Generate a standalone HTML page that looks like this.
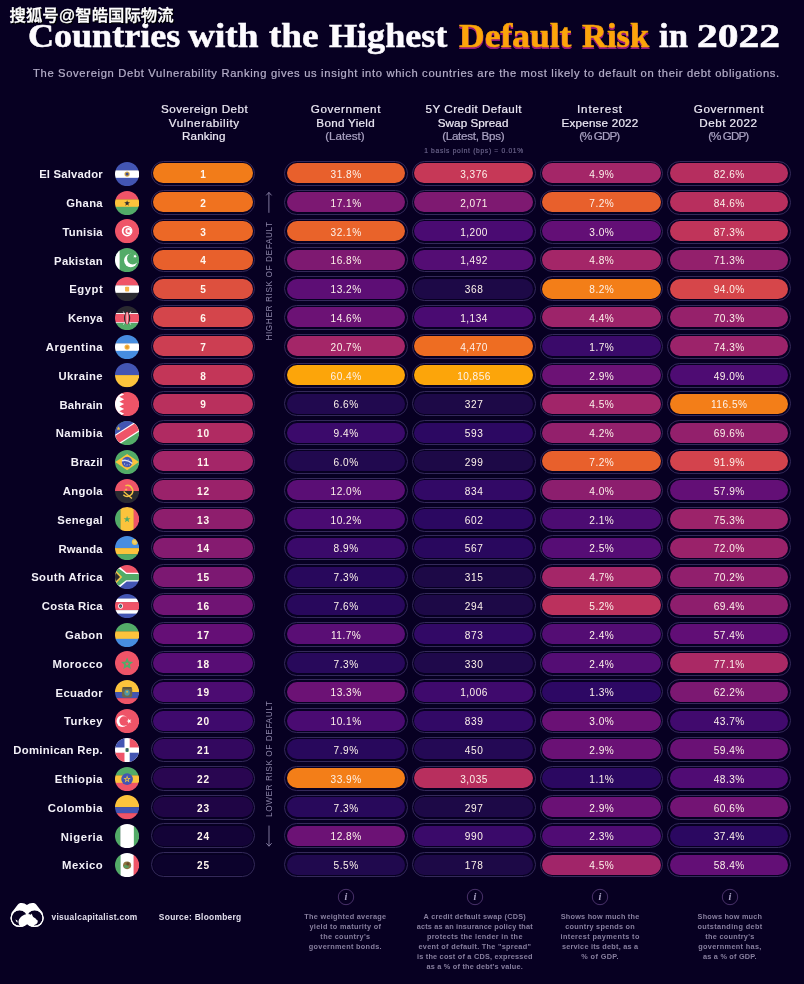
<!DOCTYPE html><html><head><meta charset="utf-8"><title>Default Risk</title><style>
*{margin:0;padding:0;box-sizing:border-box}
html,body{width:804px;height:984px;overflow:hidden;background:#070022;}
body{position:relative;font-family:"Liberation Sans",sans-serif;color:#fff}
#wrap{position:absolute;left:0;top:0;width:804px;height:984px;overflow:hidden;will-change:transform}
.abs{position:absolute}
.t{position:absolute;white-space:nowrap}
.tw{position:absolute;top:15.8px;white-space:nowrap;font-family:"Liberation Serif",serif;font-weight:bold;font-size:33px;line-height:40px;color:#fdfbff;transform-origin:0 0;-webkit-text-stroke:0.55px #fdfbff}
.tw.o{color:#fca50a;-webkit-text-stroke:0.55px #fca50a;text-shadow:0 1.6px 0 #97197a,0.5px 1.6px 0 #97197a,-0.5px 1.6px 0 #97197a}
.ring{position:absolute;height:25.0px;border:1px solid #34295a;border-radius:13px;}
.pill{position:absolute;left:1.6px;top:1.6px;right:1.6px;bottom:1.6px;border-radius:11px}
.flag{position:absolute;left:115.1px;width:24.2px;height:24.2px}
.vt{position:absolute;font-size:8.2px;letter-spacing:1.05px;color:#8d85a8;white-space:nowrap;transform-origin:0 0;transform:rotate(-90deg);line-height:10px;font-weight:bold}
</style></head><body><div id="wrap">
<span class="tw" style="left:28.20px;transform:scaleX(1.0924)">Countries</span>
<span class="tw" style="left:188.00px;transform:scaleX(1.1293)">with</span>
<span class="tw" style="left:269.40px;transform:scaleX(1.1253)">the</span>
<span class="tw" style="left:328.50px;transform:scaleX(1.0936)">Highest</span>
<span class="tw o" style="left:458.50px;transform:scaleX(1.0758)">Default</span>
<span class="tw o" style="left:582.10px;transform:scaleX(1.0454)">Risk</span>
<span class="tw" style="left:659.00px;transform:scaleX(1.0501)">in</span>
<span class="tw" style="left:697.20px;transform:scaleX(1.2576)">2022</span>
<svg class="abs" style="left:0;top:0" width="200" height="30" viewBox="0 0 200 30"><text x="10.7" y="22.2" font-family="'Liberation Sans','Noto Sans CJK SC',sans-serif" font-size="16.45" font-weight="500" fill="#000" stroke="#000" stroke-width="0.49" textLength="164" lengthAdjust="spacingAndGlyphs">搜狐号@智皓国际物流</text><text x="9.6" y="21.1" font-family="'Liberation Sans','Noto Sans CJK SC',sans-serif" font-size="16.45" font-weight="500" fill="#fff" stroke="#fff" stroke-width="0.36" textLength="164" lengthAdjust="spacingAndGlyphs">搜狐号@智皓国际物流</text></svg>
<div class="t" style="left:33.15px;top:67.14px;font-size:10.2px;line-height:13.26px;letter-spacing:0.602px;color:#b5aec9;transform:scaleX(1.1);transform-origin:0 50%;-webkit-text-stroke:0.2px #b5aec9;">The Sovereign Debt Vulnerability Ranking gives us insight into which countries are the most likely to default on their debt obligations.</div>
<div class="t" style="left:164.68px;top:102.74px;font-size:10.6px;line-height:13.78px;letter-spacing:0.445px;color:#ece8f4;transform:scaleX(1.1);transform-origin:50% 50%;-webkit-text-stroke:0.2px #ece8f4;">Sovereign Debt</div>
<div class="t" style="left:172.13px;top:116.74px;font-size:10.6px;line-height:13.78px;letter-spacing:0.549px;color:#ece8f4;transform:scaleX(1.1);transform-origin:50% 50%;-webkit-text-stroke:0.2px #ece8f4;">Vulnerability</div>
<div class="t" style="left:184.36px;top:129.84px;font-size:10.6px;line-height:13.78px;letter-spacing:0.099px;color:#ece8f4;transform:scaleX(1.1);transform-origin:50% 50%;-webkit-text-stroke:0.2px #ece8f4;">Ranking</div>
<div class="t" style="left:313.65px;top:102.74px;font-size:10.6px;line-height:13.78px;letter-spacing:0.553px;color:#ece8f4;transform:scaleX(1.1);transform-origin:50% 50%;-webkit-text-stroke:0.2px #ece8f4;">Government</div>
<div class="t" style="left:318.79px;top:116.74px;font-size:10.6px;line-height:13.78px;letter-spacing:0.260px;color:#ece8f4;transform:scaleX(1.1);transform-origin:50% 50%;-webkit-text-stroke:0.2px #ece8f4;">Bond Yield</div>
<div class="t" style="left:327.42px;top:129.84px;font-size:10.6px;line-height:13.78px;letter-spacing:-0.026px;color:#aaa2c2;transform:scaleX(1.1);transform-origin:50% 50%;-webkit-text-stroke:0.2px #aaa2c2;">(Latest)</div>
<div class="t" style="left:429.55px;top:102.74px;font-size:10.6px;line-height:13.78px;letter-spacing:0.424px;color:#ece8f4;transform:scaleX(1.1);transform-origin:50% 50%;-webkit-text-stroke:0.2px #ece8f4;">5Y Credit Default</div>
<div class="t" style="left:441.09px;top:116.74px;font-size:10.6px;line-height:13.78px;letter-spacing:0.057px;color:#ece8f4;transform:scaleX(1.1);transform-origin:50% 50%;-webkit-text-stroke:0.2px #ece8f4;">Swap Spread</div>
<div class="t" style="left:444.78px;top:129.84px;font-size:10.6px;line-height:13.78px;letter-spacing:-0.270px;color:#aaa2c2;transform:scaleX(1.1);transform-origin:50% 50%;-webkit-text-stroke:0.2px #aaa2c2;">(Latest, Bps)</div>
<div class="t" style="left:579.44px;top:102.74px;font-size:10.6px;line-height:13.78px;letter-spacing:0.824px;color:#ece8f4;transform:scaleX(1.1);transform-origin:50% 50%;-webkit-text-stroke:0.2px #ece8f4;">Interest</div>
<div class="t" style="left:565.08px;top:116.74px;font-size:10.6px;line-height:13.78px;letter-spacing:0.188px;color:#ece8f4;transform:scaleX(1.1);transform-origin:50% 50%;-webkit-text-stroke:0.2px #ece8f4;">Expense 2022</div>
<div class="t" style="left:581.35px;top:129.84px;font-size:10.6px;line-height:13.78px;letter-spacing:-0.850px;color:#aaa2c2;transform:scaleX(1.1);transform-origin:50% 50%;-webkit-text-stroke:0.2px #aaa2c2;">(% GDP)</div>
<div class="t" style="left:696.85px;top:102.74px;font-size:10.6px;line-height:13.78px;letter-spacing:0.553px;color:#ece8f4;transform:scaleX(1.1);transform-origin:50% 50%;-webkit-text-stroke:0.2px #ece8f4;">Government</div>
<div class="t" style="left:702.30px;top:116.74px;font-size:10.6px;line-height:13.78px;letter-spacing:0.435px;color:#ece8f4;transform:scaleX(1.1);transform-origin:50% 50%;-webkit-text-stroke:0.2px #ece8f4;">Debt 2022</div>
<div class="t" style="left:709.89px;top:129.84px;font-size:10.6px;line-height:13.78px;letter-spacing:-0.865px;color:#aaa2c2;transform:scaleX(1.1);transform-origin:50% 50%;-webkit-text-stroke:0.2px #aaa2c2;">(% GDP)</div>
<div class="t" style="left:426.69px;top:147.22px;font-size:6.3px;line-height:8.19px;letter-spacing:0.650px;color:#6d658c;transform:scaleX(1.06);transform-origin:50% 50%;-webkit-text-stroke:0.15px #6d658c;">1 basis point (bps) = 0.01%</div>
<div class="t" style="left:39.15px;top:167.24px;font-size:11.3px;line-height:14.69px;letter-spacing:0.196px;color:#f3f0f8;font-weight:bold;">El Salvador</div>
<svg class="flag" style="top:161.75px" viewBox="0 0 24 24"><clipPath id="c0"><circle cx="12" cy="12" r="12"/></clipPath><g clip-path="url(#c0)"><rect x="0" y="0.00" width="24" height="8.60" fill="#4355b3"/><rect x="0" y="8.30" width="24" height="7.70" fill="#ffffff"/><rect x="0" y="15.70" width="24" height="8.60" fill="#4355b3"/><circle cx="12" cy="12" r="2.6" fill="#d9aa48"/><circle cx="12" cy="12" r="1.5" fill="#3d4a8a"/></g></svg>
<div class="ring" style="left:150.7px;top:160.90px;width:104.7px"><div class="pill" style="background:#f27c19"></div></div>
<div class="t" style="left:200.24px;top:168.09px;font-size:10.1px;line-height:13.13px;letter-spacing:0.000px;color:#fff6ee;font-weight:bold;">1</div>
<div class="ring" style="left:284.0px;top:160.90px;width:123.8px"><div class="pill" style="background:#e8602c"></div></div>
<div class="t" style="left:330.55px;top:168.09px;font-size:10.1px;line-height:13.13px;letter-spacing:0.515px;color:#fdf2ea;">31.8%</div>
<div class="ring" style="left:411.9px;top:160.90px;width:123.8px"><div class="pill" style="background:#c63857"></div></div>
<div class="t" style="left:460.18px;top:168.09px;font-size:10.1px;line-height:13.13px;letter-spacing:0.490px;color:#fdf2ea;">3,376</div>
<div class="ring" style="left:539.7px;top:160.90px;width:123.7px"><div class="pill" style="background:#a42668"></div></div>
<div class="t" style="left:589.24px;top:168.09px;font-size:10.1px;line-height:13.13px;letter-spacing:0.531px;color:#fdf2ea;">4.9%</div>
<div class="ring" style="left:667.2px;top:160.90px;width:123.6px"><div class="pill" style="background:#b62e5f"></div></div>
<div class="t" style="left:713.65px;top:168.09px;font-size:10.1px;line-height:13.13px;letter-spacing:0.515px;color:#fdf2ea;">82.6%</div>
<div class="t" style="left:66.25px;top:196.04px;font-size:11.3px;line-height:14.69px;letter-spacing:0.310px;color:#f3f0f8;font-weight:bold;">Ghana</div>
<svg class="flag" style="top:190.55px" viewBox="0 0 24 24"><clipPath id="c1"><circle cx="12" cy="12" r="12"/></clipPath><g clip-path="url(#c1)"><rect x="0" y="0.00" width="24" height="8.60" fill="#ef5468"/><rect x="0" y="8.30" width="24" height="7.70" fill="#fcc33c"/><rect x="0" y="15.70" width="24" height="8.60" fill="#53ab68"/><polygon points="12.00,9.20 12.71,11.23 14.85,11.27 13.14,12.57 13.76,14.63 12.00,13.40 10.24,14.63 10.86,12.57 9.15,11.27 11.29,11.23" fill="#2a2a30"/></g></svg>
<div class="ring" style="left:150.7px;top:189.70px;width:104.7px"><div class="pill" style="background:#f0721f"></div></div>
<div class="t" style="left:200.24px;top:196.89px;font-size:10.1px;line-height:13.13px;letter-spacing:0.000px;color:#fff6ee;font-weight:bold;">2</div>
<div class="ring" style="left:284.0px;top:189.70px;width:123.8px"><div class="pill" style="background:#7c1872"></div></div>
<div class="t" style="left:330.55px;top:196.89px;font-size:10.1px;line-height:13.13px;letter-spacing:0.515px;color:#fdf2ea;">17.1%</div>
<div class="ring" style="left:411.9px;top:189.70px;width:123.8px"><div class="pill" style="background:#7e1971"></div></div>
<div class="t" style="left:460.18px;top:196.89px;font-size:10.1px;line-height:13.13px;letter-spacing:0.490px;color:#fdf2ea;">2,071</div>
<div class="ring" style="left:539.7px;top:189.70px;width:123.7px"><div class="pill" style="background:#e8602c"></div></div>
<div class="t" style="left:589.24px;top:196.89px;font-size:10.1px;line-height:13.13px;letter-spacing:0.531px;color:#fdf2ea;">7.2%</div>
<div class="ring" style="left:667.2px;top:189.70px;width:123.6px"><div class="pill" style="background:#b82f5e"></div></div>
<div class="t" style="left:713.65px;top:196.89px;font-size:10.1px;line-height:13.13px;letter-spacing:0.515px;color:#fdf2ea;">84.6%</div>
<div class="t" style="left:62.55px;top:224.84px;font-size:11.3px;line-height:14.69px;letter-spacing:0.231px;color:#f3f0f8;font-weight:bold;">Tunisia</div>
<svg class="flag" style="top:219.35px" viewBox="0 0 24 24"><clipPath id="c2"><circle cx="12" cy="12" r="12"/></clipPath><g clip-path="url(#c2)"><rect width="24" height="24" fill="#ef5468"/><circle cx="12" cy="12" r="5.3" fill="#ffffff"/><circle cx="12.3" cy="12" r="3.8" fill="#ef5468"/><circle cx="13.4" cy="12" r="3.1" fill="#ffffff"/><polygon points="11.10,12.00 12.59,11.48 12.62,9.91 13.57,11.16 15.08,10.71 14.18,12.00 15.08,13.29 13.57,12.84 12.62,14.09 12.59,12.52" fill="#ef5468"/></g></svg>
<div class="ring" style="left:150.7px;top:218.50px;width:104.7px"><div class="pill" style="background:#ec6826"></div></div>
<div class="t" style="left:200.24px;top:225.69px;font-size:10.1px;line-height:13.13px;letter-spacing:0.000px;color:#fff6ee;font-weight:bold;">3</div>
<div class="ring" style="left:284.0px;top:218.50px;width:123.8px"><div class="pill" style="background:#e9632a"></div></div>
<div class="t" style="left:330.55px;top:225.69px;font-size:10.1px;line-height:13.13px;letter-spacing:0.515px;color:#fdf2ea;">32.1%</div>
<div class="ring" style="left:411.9px;top:218.50px;width:123.8px"><div class="pill" style="background:#4a0b72"></div></div>
<div class="t" style="left:460.18px;top:225.69px;font-size:10.1px;line-height:13.13px;letter-spacing:0.490px;color:#fdf2ea;">1,200</div>
<div class="ring" style="left:539.7px;top:218.50px;width:123.7px"><div class="pill" style="background:#630f76"></div></div>
<div class="t" style="left:589.24px;top:225.69px;font-size:10.1px;line-height:13.13px;letter-spacing:0.531px;color:#fdf2ea;">3.0%</div>
<div class="ring" style="left:667.2px;top:218.50px;width:123.6px"><div class="pill" style="background:#c0345a"></div></div>
<div class="t" style="left:713.65px;top:225.69px;font-size:10.1px;line-height:13.13px;letter-spacing:0.515px;color:#fdf2ea;">87.3%</div>
<div class="t" style="left:54.05px;top:253.64px;font-size:11.3px;line-height:14.69px;letter-spacing:0.303px;color:#f3f0f8;font-weight:bold;">Pakistan</div>
<svg class="flag" style="top:248.15px" viewBox="0 0 24 24"><clipPath id="c3"><circle cx="12" cy="12" r="12"/></clipPath><g clip-path="url(#c3)"><rect width="24" height="24" fill="#53ab68"/><rect width="4.6" height="24" fill="#ffffff"/><circle cx="15.6" cy="12.4" r="6.6" fill="#ffffff"/><circle cx="17.6" cy="10.6" r="5.7" fill="#53ab68"/><polygon points="20.80,6.57 20.53,7.97 21.76,8.72 20.34,8.89 20.01,10.29 19.40,8.99 17.97,9.11 19.02,8.13 18.46,6.81 19.72,7.50" fill="#ffffff"/></g></svg>
<div class="ring" style="left:150.7px;top:247.30px;width:104.7px"><div class="pill" style="background:#e8602c"></div></div>
<div class="t" style="left:200.24px;top:254.49px;font-size:10.1px;line-height:13.13px;letter-spacing:0.000px;color:#fff6ee;font-weight:bold;">4</div>
<div class="ring" style="left:284.0px;top:247.30px;width:123.8px"><div class="pill" style="background:#7e1971"></div></div>
<div class="t" style="left:330.55px;top:254.49px;font-size:10.1px;line-height:13.13px;letter-spacing:0.515px;color:#fdf2ea;">16.8%</div>
<div class="ring" style="left:411.9px;top:247.30px;width:123.8px"><div class="pill" style="background:#540d74"></div></div>
<div class="t" style="left:460.18px;top:254.49px;font-size:10.1px;line-height:13.13px;letter-spacing:0.490px;color:#fdf2ea;">1,492</div>
<div class="ring" style="left:539.7px;top:247.30px;width:123.7px"><div class="pill" style="background:#a42668"></div></div>
<div class="t" style="left:589.24px;top:254.49px;font-size:10.1px;line-height:13.13px;letter-spacing:0.531px;color:#fdf2ea;">4.8%</div>
<div class="ring" style="left:667.2px;top:247.30px;width:123.6px"><div class="pill" style="background:#93206c"></div></div>
<div class="t" style="left:713.65px;top:254.49px;font-size:10.1px;line-height:13.13px;letter-spacing:0.515px;color:#fdf2ea;">71.3%</div>
<div class="t" style="left:69.15px;top:282.44px;font-size:11.3px;line-height:14.69px;letter-spacing:0.529px;color:#f3f0f8;font-weight:bold;">Egypt</div>
<svg class="flag" style="top:276.95px" viewBox="0 0 24 24"><clipPath id="c4"><circle cx="12" cy="12" r="12"/></clipPath><g clip-path="url(#c4)"><rect x="0" y="0.00" width="24" height="8.60" fill="#ef5468"/><rect x="0" y="8.30" width="24" height="7.70" fill="#ffffff"/><rect x="0" y="15.70" width="24" height="8.60" fill="#2a2a30"/><rect x="10" y="9.6" width="4" height="4.8" rx="0.8" fill="#f4b64a"/></g></svg>
<div class="ring" style="left:150.7px;top:276.10px;width:104.7px"><div class="pill" style="background:#dd503e"></div></div>
<div class="t" style="left:200.24px;top:283.29px;font-size:10.1px;line-height:13.13px;letter-spacing:0.000px;color:#fff6ee;font-weight:bold;">5</div>
<div class="ring" style="left:284.0px;top:276.10px;width:123.8px"><div class="pill" style="background:#5d0e75"></div></div>
<div class="t" style="left:330.55px;top:283.29px;font-size:10.1px;line-height:13.13px;letter-spacing:0.515px;color:#fdf2ea;">13.2%</div>
<div class="ring" style="left:411.9px;top:276.10px;width:123.8px"><div class="pill" style="background:#1d0947"></div></div>
<div class="t" style="left:464.82px;top:283.29px;font-size:10.1px;line-height:13.13px;letter-spacing:0.554px;color:#fdf2ea;">368</div>
<div class="ring" style="left:539.7px;top:276.10px;width:123.7px"><div class="pill" style="background:#f37e18"></div></div>
<div class="t" style="left:589.24px;top:283.29px;font-size:10.1px;line-height:13.13px;letter-spacing:0.531px;color:#fdf2ea;">8.2%</div>
<div class="ring" style="left:667.2px;top:276.10px;width:123.6px"><div class="pill" style="background:#d6464a"></div></div>
<div class="t" style="left:713.65px;top:283.29px;font-size:10.1px;line-height:13.13px;letter-spacing:0.515px;color:#fdf2ea;">94.0%</div>
<div class="t" style="left:67.95px;top:311.24px;font-size:11.3px;line-height:14.69px;letter-spacing:0.197px;color:#f3f0f8;font-weight:bold;">Kenya</div>
<svg class="flag" style="top:305.75px" viewBox="0 0 24 24"><clipPath id="c5"><circle cx="12" cy="12" r="12"/></clipPath><g clip-path="url(#c5)"><rect x="0" y="0.00" width="24" height="7.30" fill="#2a2a30"/><rect x="0" y="7.00" width="24" height="1.20" fill="#ffffff"/><rect x="0" y="7.90" width="24" height="8.50" fill="#ef5468"/><rect x="0" y="16.10" width="24" height="1.20" fill="#ffffff"/><rect x="0" y="17.00" width="24" height="7.30" fill="#53ab68"/><path d="M8.2 5.5L15.6 18.5M15.8 5.5L8.4 18.5" stroke="#ffffff" stroke-width="0.7"/><ellipse cx="12" cy="12" rx="3.1" ry="6.2" fill="#2a2a30"/><ellipse cx="12" cy="12" rx="1.9" ry="6.4" fill="#ef5468"/><rect x="11.6" y="6.6" width="0.8" height="10.8" fill="#ffffff"/></g></svg>
<div class="ring" style="left:150.7px;top:304.90px;width:104.7px"><div class="pill" style="background:#d4454b"></div></div>
<div class="t" style="left:200.24px;top:312.09px;font-size:10.1px;line-height:13.13px;letter-spacing:0.000px;color:#fff6ee;font-weight:bold;">6</div>
<div class="ring" style="left:284.0px;top:304.90px;width:123.8px"><div class="pill" style="background:#6c1275"></div></div>
<div class="t" style="left:330.55px;top:312.09px;font-size:10.1px;line-height:13.13px;letter-spacing:0.515px;color:#fdf2ea;">14.6%</div>
<div class="ring" style="left:411.9px;top:304.90px;width:123.8px"><div class="pill" style="background:#4a0b72"></div></div>
<div class="t" style="left:460.18px;top:312.09px;font-size:10.1px;line-height:13.13px;letter-spacing:0.490px;color:#fdf2ea;">1,134</div>
<div class="ring" style="left:539.7px;top:304.90px;width:123.7px"><div class="pill" style="background:#9d246a"></div></div>
<div class="t" style="left:589.24px;top:312.09px;font-size:10.1px;line-height:13.13px;letter-spacing:0.531px;color:#fdf2ea;">4.4%</div>
<div class="ring" style="left:667.2px;top:304.90px;width:123.6px"><div class="pill" style="background:#96216b"></div></div>
<div class="t" style="left:713.65px;top:312.09px;font-size:10.1px;line-height:13.13px;letter-spacing:0.515px;color:#fdf2ea;">70.3%</div>
<div class="t" style="left:45.85px;top:340.04px;font-size:11.3px;line-height:14.69px;letter-spacing:0.508px;color:#f3f0f8;font-weight:bold;">Argentina</div>
<svg class="flag" style="top:334.55px" viewBox="0 0 24 24"><clipPath id="c6"><circle cx="12" cy="12" r="12"/></clipPath><g clip-path="url(#c6)"><rect x="0" y="0.00" width="24" height="8.60" fill="#478de0"/><rect x="0" y="8.30" width="24" height="7.70" fill="#ffffff"/><rect x="0" y="15.70" width="24" height="8.60" fill="#478de0"/><circle cx="12" cy="12" r="2.6" fill="#f6b84a"/><circle cx="12" cy="12" r="1.6" fill="#e89a2a"/></g></svg>
<div class="ring" style="left:150.7px;top:333.70px;width:104.7px"><div class="pill" style="background:#cc3e52"></div></div>
<div class="t" style="left:200.24px;top:340.89px;font-size:10.1px;line-height:13.13px;letter-spacing:0.000px;color:#fff6ee;font-weight:bold;">7</div>
<div class="ring" style="left:284.0px;top:333.70px;width:123.8px"><div class="pill" style="background:#a42668"></div></div>
<div class="t" style="left:330.55px;top:340.89px;font-size:10.1px;line-height:13.13px;letter-spacing:0.515px;color:#fdf2ea;">20.7%</div>
<div class="ring" style="left:411.9px;top:333.70px;width:123.8px"><div class="pill" style="background:#ee6d22"></div></div>
<div class="t" style="left:460.18px;top:340.89px;font-size:10.1px;line-height:13.13px;letter-spacing:0.490px;color:#fdf2ea;">4,470</div>
<div class="ring" style="left:539.7px;top:333.70px;width:123.7px"><div class="pill" style="background:#3a0a6a"></div></div>
<div class="t" style="left:589.24px;top:340.89px;font-size:10.1px;line-height:13.13px;letter-spacing:0.531px;color:#fdf2ea;">1.7%</div>
<div class="ring" style="left:667.2px;top:333.70px;width:123.6px"><div class="pill" style="background:#9c236a"></div></div>
<div class="t" style="left:713.65px;top:340.89px;font-size:10.1px;line-height:13.13px;letter-spacing:0.515px;color:#fdf2ea;">74.3%</div>
<div class="t" style="left:58.45px;top:368.84px;font-size:11.3px;line-height:14.69px;letter-spacing:0.458px;color:#f3f0f8;font-weight:bold;">Ukraine</div>
<svg class="flag" style="top:363.35px" viewBox="0 0 24 24"><clipPath id="c7"><circle cx="12" cy="12" r="12"/></clipPath><g clip-path="url(#c7)"><rect x="0" y="0.00" width="24" height="12.30" fill="#4355b3"/><rect x="0" y="12.00" width="24" height="12.30" fill="#fcc33c"/></g></svg>
<div class="ring" style="left:150.7px;top:362.50px;width:104.7px"><div class="pill" style="background:#c33658"></div></div>
<div class="t" style="left:200.24px;top:369.69px;font-size:10.1px;line-height:13.13px;letter-spacing:0.000px;color:#fff6ee;font-weight:bold;">8</div>
<div class="ring" style="left:284.0px;top:362.50px;width:123.8px"><div class="pill" style="background:#fca50a"></div></div>
<div class="t" style="left:330.55px;top:369.69px;font-size:10.1px;line-height:13.13px;letter-spacing:0.515px;color:#fdf2ea;">60.4%</div>
<div class="ring" style="left:411.9px;top:362.50px;width:123.8px"><div class="pill" style="background:#fca50a"></div></div>
<div class="t" style="left:457.14px;top:369.69px;font-size:10.1px;line-height:13.13px;letter-spacing:0.485px;color:#fdf2ea;">10,856</div>
<div class="ring" style="left:539.7px;top:362.50px;width:123.7px"><div class="pill" style="background:#6c1275"></div></div>
<div class="t" style="left:589.24px;top:369.69px;font-size:10.1px;line-height:13.13px;letter-spacing:0.531px;color:#fdf2ea;">2.9%</div>
<div class="ring" style="left:667.2px;top:362.50px;width:123.6px"><div class="pill" style="background:#4e0c73"></div></div>
<div class="t" style="left:713.65px;top:369.69px;font-size:10.1px;line-height:13.13px;letter-spacing:0.515px;color:#fdf2ea;">49.0%</div>
<div class="t" style="left:59.45px;top:397.64px;font-size:11.3px;line-height:14.69px;letter-spacing:0.189px;color:#f3f0f8;font-weight:bold;">Bahrain</div>
<svg class="flag" style="top:392.15px" viewBox="0 0 24 24"><clipPath id="c8"><circle cx="12" cy="12" r="12"/></clipPath><g clip-path="url(#c8)"><rect width="24" height="24" fill="#ef5468"/><polygon points="0,0 4.4,0 9.1,2.40 4.4,4.80 9.1,7.20 4.4,9.60 9.1,12.00 4.4,14.40 9.1,16.80 4.4,19.20 9.1,21.60 4.4,24.00 0,24" fill="#ffffff"/></g></svg>
<div class="ring" style="left:150.7px;top:391.30px;width:104.7px"><div class="pill" style="background:#b9305d"></div></div>
<div class="t" style="left:200.24px;top:398.49px;font-size:10.1px;line-height:13.13px;letter-spacing:0.000px;color:#fff6ee;font-weight:bold;">9</div>
<div class="ring" style="left:284.0px;top:391.30px;width:123.8px"><div class="pill" style="background:#21094f"></div></div>
<div class="t" style="left:333.59px;top:398.49px;font-size:10.1px;line-height:13.13px;letter-spacing:0.531px;color:#fdf2ea;">6.6%</div>
<div class="ring" style="left:411.9px;top:391.30px;width:123.8px"><div class="pill" style="background:#1d0947"></div></div>
<div class="t" style="left:464.82px;top:398.49px;font-size:10.1px;line-height:13.13px;letter-spacing:0.554px;color:#fdf2ea;">327</div>
<div class="ring" style="left:539.7px;top:391.30px;width:123.7px"><div class="pill" style="background:#a12569"></div></div>
<div class="t" style="left:589.24px;top:398.49px;font-size:10.1px;line-height:13.13px;letter-spacing:0.531px;color:#fdf2ea;">4.5%</div>
<div class="ring" style="left:667.2px;top:391.30px;width:123.6px"><div class="pill" style="background:#f37e18"></div></div>
<div class="t" style="left:711.00px;top:398.49px;font-size:10.1px;line-height:13.13px;letter-spacing:0.501px;color:#fdf2ea;">116.5%</div>
<div class="t" style="left:55.65px;top:426.44px;font-size:11.3px;line-height:14.69px;letter-spacing:0.508px;color:#f3f0f8;font-weight:bold;">Namibia</div>
<svg class="flag" style="top:420.95px" viewBox="0 0 24 24"><clipPath id="c9"><circle cx="12" cy="12" r="12"/></clipPath><g clip-path="url(#c9)"><rect width="24" height="24" fill="#53ab68"/><polygon points="0,0 24,0 0,17" fill="#4355b3"/><polygon points="-2,14.8 26,-3 26,9.2 -2,27" fill="#ffffff"/><polygon points="-2,16.2 26,-1.6 26,7.8 -2,25.6" fill="#ef5468"/><polygon points="3.50,5.20 4.04,6.76 5.69,6.79 4.37,7.78 4.85,9.36 3.50,8.42 2.15,9.36 2.63,7.78 1.31,6.79 2.96,6.76" fill="#f0c040"/></g></svg>
<div class="ring" style="left:150.7px;top:420.10px;width:104.7px"><div class="pill" style="background:#b02b62"></div></div>
<div class="t" style="left:197.01px;top:427.29px;font-size:10.1px;line-height:13.13px;letter-spacing:0.842px;color:#fff6ee;font-weight:bold;">10</div>
<div class="ring" style="left:284.0px;top:420.10px;width:123.8px"><div class="pill" style="background:#3b0a6b"></div></div>
<div class="t" style="left:333.59px;top:427.29px;font-size:10.1px;line-height:13.13px;letter-spacing:0.531px;color:#fdf2ea;">9.4%</div>
<div class="ring" style="left:411.9px;top:420.10px;width:123.8px"><div class="pill" style="background:#2c0862"></div></div>
<div class="t" style="left:464.82px;top:427.29px;font-size:10.1px;line-height:13.13px;letter-spacing:0.554px;color:#fdf2ea;">593</div>
<div class="ring" style="left:539.7px;top:420.10px;width:123.7px"><div class="pill" style="background:#93206c"></div></div>
<div class="t" style="left:589.24px;top:427.29px;font-size:10.1px;line-height:13.13px;letter-spacing:0.531px;color:#fdf2ea;">4.2%</div>
<div class="ring" style="left:667.2px;top:420.10px;width:123.6px"><div class="pill" style="background:#93206c"></div></div>
<div class="t" style="left:713.65px;top:427.29px;font-size:10.1px;line-height:13.13px;letter-spacing:0.515px;color:#fdf2ea;">69.6%</div>
<div class="t" style="left:70.75px;top:455.24px;font-size:11.3px;line-height:14.69px;letter-spacing:0.227px;color:#f3f0f8;font-weight:bold;">Brazil</div>
<svg class="flag" style="top:449.75px" viewBox="0 0 24 24"><clipPath id="c10"><circle cx="12" cy="12" r="12"/></clipPath><g clip-path="url(#c10)"><rect width="24" height="24" fill="#53ab68"/><polygon points="0.3,12 12,4 23.7,12 12,20" fill="#fcc33c"/><circle cx="12" cy="12" r="5.2" fill="#4355b3"/><path d="M6.900 10.700q5.200-1.800 10.300 2.800" stroke="#dfe4f6" stroke-width="1.300" fill="none"/><g fill="#c9d0ee"><circle cx="9.500" cy="13.800" r=".55"/><circle cx="12" cy="14.800" r=".55"/><circle cx="14.200" cy="14.600" r=".5"/><circle cx="10.800" cy="15.800" r=".45"/><circle cx="13" cy="9.300" r=".45"/></g></g></svg>
<div class="ring" style="left:150.7px;top:448.90px;width:104.7px"><div class="pill" style="background:#a42668"></div></div>
<div class="t" style="left:197.30px;top:456.09px;font-size:10.1px;line-height:13.13px;letter-spacing:0.825px;color:#fff6ee;font-weight:bold;">11</div>
<div class="ring" style="left:284.0px;top:448.90px;width:123.8px"><div class="pill" style="background:#21094f"></div></div>
<div class="t" style="left:333.59px;top:456.09px;font-size:10.1px;line-height:13.13px;letter-spacing:0.531px;color:#fdf2ea;">6.0%</div>
<div class="ring" style="left:411.9px;top:448.90px;width:123.8px"><div class="pill" style="background:#1d0947"></div></div>
<div class="t" style="left:464.82px;top:456.09px;font-size:10.1px;line-height:13.13px;letter-spacing:0.554px;color:#fdf2ea;">299</div>
<div class="ring" style="left:539.7px;top:448.90px;width:123.7px"><div class="pill" style="background:#e8602c"></div></div>
<div class="t" style="left:589.24px;top:456.09px;font-size:10.1px;line-height:13.13px;letter-spacing:0.531px;color:#fdf2ea;">7.2%</div>
<div class="ring" style="left:667.2px;top:448.90px;width:123.6px"><div class="pill" style="background:#d3434d"></div></div>
<div class="t" style="left:713.65px;top:456.09px;font-size:10.1px;line-height:13.13px;letter-spacing:0.515px;color:#fdf2ea;">91.9%</div>
<div class="t" style="left:62.85px;top:484.04px;font-size:11.3px;line-height:14.69px;letter-spacing:0.302px;color:#f3f0f8;font-weight:bold;">Angola</div>
<svg class="flag" style="top:478.55px" viewBox="0 0 24 24"><clipPath id="c11"><circle cx="12" cy="12" r="12"/></clipPath><g clip-path="url(#c11)"><rect x="0" y="0.00" width="24" height="12.30" fill="#ef5468"/><rect x="0" y="12.00" width="24" height="12.30" fill="#2a2a30"/><path d="M10.300 6.700a5.400 5.400 0 1 1-2 8.900" fill="none" stroke="#f6c444" stroke-width="1.500"/><path d="M8.600 12.300l8.200 7" stroke="#f6c444" stroke-width="1.300"/><polygon points="11.00,8.80 11.40,9.95 12.62,9.97 11.65,10.71 12.00,11.88 11.00,11.18 10.00,11.88 10.35,10.71 9.38,9.97 10.60,9.95" fill="#f6c444"/></g></svg>
<div class="ring" style="left:150.7px;top:477.70px;width:104.7px"><div class="pill" style="background:#9a226a"></div></div>
<div class="t" style="left:197.01px;top:484.89px;font-size:10.1px;line-height:13.13px;letter-spacing:0.842px;color:#fff6ee;font-weight:bold;">12</div>
<div class="ring" style="left:284.0px;top:477.70px;width:123.8px"><div class="pill" style="background:#5a0e75"></div></div>
<div class="t" style="left:330.55px;top:484.89px;font-size:10.1px;line-height:13.13px;letter-spacing:0.515px;color:#fdf2ea;">12.0%</div>
<div class="ring" style="left:411.9px;top:477.70px;width:123.8px"><div class="pill" style="background:#320966"></div></div>
<div class="t" style="left:464.82px;top:484.89px;font-size:10.1px;line-height:13.13px;letter-spacing:0.554px;color:#fdf2ea;">834</div>
<div class="ring" style="left:539.7px;top:477.70px;width:123.7px"><div class="pill" style="background:#8c1e6e"></div></div>
<div class="t" style="left:589.24px;top:484.89px;font-size:10.1px;line-height:13.13px;letter-spacing:0.531px;color:#fdf2ea;">4.0%</div>
<div class="ring" style="left:667.2px;top:477.70px;width:123.6px"><div class="pill" style="background:#630f76"></div></div>
<div class="t" style="left:713.65px;top:484.89px;font-size:10.1px;line-height:13.13px;letter-spacing:0.515px;color:#fdf2ea;">57.9%</div>
<div class="t" style="left:57.25px;top:512.84px;font-size:11.3px;line-height:14.69px;letter-spacing:0.345px;color:#f3f0f8;font-weight:bold;">Senegal</div>
<svg class="flag" style="top:507.35px" viewBox="0 0 24 24"><clipPath id="c12"><circle cx="12" cy="12" r="12"/></clipPath><g clip-path="url(#c12)"><rect x="0.00" y="0" width="5.80" height="24" fill="#53ab68"/><rect x="5.50" y="0" width="13.30" height="24" fill="#fcc33c"/><rect x="18.50" y="0" width="5.80" height="24" fill="#ef5468"/><polygon points="12.00,8.70 12.85,11.14 15.42,11.19 13.37,12.74 14.12,15.21 12.00,13.74 9.88,15.21 10.63,12.74 8.58,11.19 11.15,11.14" fill="#53ab68"/></g></svg>
<div class="ring" style="left:150.7px;top:506.50px;width:104.7px"><div class="pill" style="background:#8e1e6d"></div></div>
<div class="t" style="left:197.01px;top:513.69px;font-size:10.1px;line-height:13.13px;letter-spacing:0.842px;color:#fff6ee;font-weight:bold;">13</div>
<div class="ring" style="left:284.0px;top:506.50px;width:123.8px"><div class="pill" style="background:#4a0b72"></div></div>
<div class="t" style="left:330.55px;top:513.69px;font-size:10.1px;line-height:13.13px;letter-spacing:0.515px;color:#fdf2ea;">10.2%</div>
<div class="ring" style="left:411.9px;top:506.50px;width:123.8px"><div class="pill" style="background:#2b0861"></div></div>
<div class="t" style="left:464.82px;top:513.69px;font-size:10.1px;line-height:13.13px;letter-spacing:0.554px;color:#fdf2ea;">602</div>
<div class="ring" style="left:539.7px;top:506.50px;width:123.7px"><div class="pill" style="background:#4c0c72"></div></div>
<div class="t" style="left:589.24px;top:513.69px;font-size:10.1px;line-height:13.13px;letter-spacing:0.531px;color:#fdf2ea;">2.1%</div>
<div class="ring" style="left:667.2px;top:506.50px;width:123.6px"><div class="pill" style="background:#9c236a"></div></div>
<div class="t" style="left:713.65px;top:513.69px;font-size:10.1px;line-height:13.13px;letter-spacing:0.515px;color:#fdf2ea;">75.3%</div>
<div class="t" style="left:58.45px;top:541.64px;font-size:11.3px;line-height:14.69px;letter-spacing:0.176px;color:#f3f0f8;font-weight:bold;">Rwanda</div>
<svg class="flag" style="top:536.15px" viewBox="0 0 24 24"><clipPath id="c13"><circle cx="12" cy="12" r="12"/></clipPath><g clip-path="url(#c13)"><rect x="0" y="0.00" width="24" height="12.30" fill="#478de0"/><rect x="0" y="12.00" width="24" height="6.30" fill="#fcc33c"/><rect x="0" y="18.00" width="24" height="6.30" fill="#53ab68"/><circle cx="19.600" cy="6" r="2.900" fill="#f2c444"/><circle cx="19.600" cy="6" r="1.700" fill="#e9d27a"/></g></svg>
<div class="ring" style="left:150.7px;top:535.30px;width:104.7px"><div class="pill" style="background:#851b70"></div></div>
<div class="t" style="left:197.01px;top:542.49px;font-size:10.1px;line-height:13.13px;letter-spacing:0.842px;color:#fff6ee;font-weight:bold;">14</div>
<div class="ring" style="left:284.0px;top:535.30px;width:123.8px"><div class="pill" style="background:#3a0a6a"></div></div>
<div class="t" style="left:333.59px;top:542.49px;font-size:10.1px;line-height:13.13px;letter-spacing:0.531px;color:#fdf2ea;">8.9%</div>
<div class="ring" style="left:411.9px;top:535.30px;width:123.8px"><div class="pill" style="background:#29085e"></div></div>
<div class="t" style="left:464.82px;top:542.49px;font-size:10.1px;line-height:13.13px;letter-spacing:0.554px;color:#fdf2ea;">567</div>
<div class="ring" style="left:539.7px;top:535.30px;width:123.7px"><div class="pill" style="background:#560d75"></div></div>
<div class="t" style="left:589.24px;top:542.49px;font-size:10.1px;line-height:13.13px;letter-spacing:0.531px;color:#fdf2ea;">2.5%</div>
<div class="ring" style="left:667.2px;top:535.30px;width:123.6px"><div class="pill" style="background:#9a226a"></div></div>
<div class="t" style="left:713.65px;top:542.49px;font-size:10.1px;line-height:13.13px;letter-spacing:0.515px;color:#fdf2ea;">72.0%</div>
<div class="t" style="left:31.15px;top:570.44px;font-size:11.3px;line-height:14.69px;letter-spacing:0.431px;color:#f3f0f8;font-weight:bold;">South Africa</div>
<svg class="flag" style="top:564.95px" viewBox="0 0 24 24"><clipPath id="c14"><circle cx="12" cy="12" r="12"/></clipPath><g clip-path="url(#c14)"><rect width="24" height="12" fill="#ef5468"/><rect y="12" width="24" height="12" fill="#4355b3"/><path d="M-1 -3L11.6 7.6H24V16.4H11.6L-1 27z" fill="#ffffff"/><path d="M-1 -0.4L11 8.9H24V15.1H11L-1 24.4z" fill="#53ab68"/><path d="M0 4.6L7.2 12 0 19.4z" fill="#f2c444"/><path d="M0 6.8L5 12 0 17.2z" fill="#2a2a30"/></g></svg>
<div class="ring" style="left:150.7px;top:564.10px;width:104.7px"><div class="pill" style="background:#7c1872"></div></div>
<div class="t" style="left:197.01px;top:571.29px;font-size:10.1px;line-height:13.13px;letter-spacing:0.842px;color:#fff6ee;font-weight:bold;">15</div>
<div class="ring" style="left:284.0px;top:564.10px;width:123.8px"><div class="pill" style="background:#28085c"></div></div>
<div class="t" style="left:333.59px;top:571.29px;font-size:10.1px;line-height:13.13px;letter-spacing:0.531px;color:#fdf2ea;">7.3%</div>
<div class="ring" style="left:411.9px;top:564.10px;width:123.8px"><div class="pill" style="background:#1d0947"></div></div>
<div class="t" style="left:464.82px;top:571.29px;font-size:10.1px;line-height:13.13px;letter-spacing:0.554px;color:#fdf2ea;">315</div>
<div class="ring" style="left:539.7px;top:564.10px;width:123.7px"><div class="pill" style="background:#a42668"></div></div>
<div class="t" style="left:589.24px;top:571.29px;font-size:10.1px;line-height:13.13px;letter-spacing:0.531px;color:#fdf2ea;">4.7%</div>
<div class="ring" style="left:667.2px;top:564.10px;width:123.6px"><div class="pill" style="background:#911f6d"></div></div>
<div class="t" style="left:713.65px;top:571.29px;font-size:10.1px;line-height:13.13px;letter-spacing:0.515px;color:#fdf2ea;">70.2%</div>
<div class="t" style="left:41.85px;top:599.24px;font-size:11.3px;line-height:14.69px;letter-spacing:0.267px;color:#f3f0f8;font-weight:bold;">Costa Rica</div>
<svg class="flag" style="top:593.75px" viewBox="0 0 24 24"><clipPath id="c15"><circle cx="12" cy="12" r="12"/></clipPath><g clip-path="url(#c15)"><rect x="0" y="0.00" width="24" height="4.80" fill="#4355b3"/><rect x="0" y="4.50" width="24" height="3.80" fill="#ffffff"/><rect x="0" y="8.00" width="24" height="8.30" fill="#ef5468"/><rect x="0" y="16.00" width="24" height="3.80" fill="#ffffff"/><rect x="0" y="19.50" width="24" height="4.80" fill="#4355b3"/><ellipse cx="5.5" cy="12" rx="2.4" ry="2.6" fill="#fff"/><ellipse cx="5.5" cy="12" rx="1.6" ry="1.8" fill="#3a4560"/><circle cx="5.5" cy="12.4" r="0.8" fill="#5aaa6a"/></g></svg>
<div class="ring" style="left:150.7px;top:592.90px;width:104.7px"><div class="pill" style="background:#701474"></div></div>
<div class="t" style="left:197.01px;top:600.09px;font-size:10.1px;line-height:13.13px;letter-spacing:0.842px;color:#fff6ee;font-weight:bold;">16</div>
<div class="ring" style="left:284.0px;top:592.90px;width:123.8px"><div class="pill" style="background:#28085c"></div></div>
<div class="t" style="left:333.59px;top:600.09px;font-size:10.1px;line-height:13.13px;letter-spacing:0.531px;color:#fdf2ea;">7.6%</div>
<div class="ring" style="left:411.9px;top:592.90px;width:123.8px"><div class="pill" style="background:#1d0947"></div></div>
<div class="t" style="left:464.82px;top:600.09px;font-size:10.1px;line-height:13.13px;letter-spacing:0.554px;color:#fdf2ea;">294</div>
<div class="ring" style="left:539.7px;top:592.90px;width:123.7px"><div class="pill" style="background:#bb315d"></div></div>
<div class="t" style="left:589.24px;top:600.09px;font-size:10.1px;line-height:13.13px;letter-spacing:0.531px;color:#fdf2ea;">5.2%</div>
<div class="ring" style="left:667.2px;top:592.90px;width:123.6px"><div class="pill" style="background:#8e1e6d"></div></div>
<div class="t" style="left:713.65px;top:600.09px;font-size:10.1px;line-height:13.13px;letter-spacing:0.515px;color:#fdf2ea;">69.4%</div>
<div class="t" style="left:64.95px;top:628.04px;font-size:11.3px;line-height:14.69px;letter-spacing:0.481px;color:#f3f0f8;font-weight:bold;">Gabon</div>
<svg class="flag" style="top:622.55px" viewBox="0 0 24 24"><clipPath id="c16"><circle cx="12" cy="12" r="12"/></clipPath><g clip-path="url(#c16)"><rect x="0" y="0.00" width="24" height="8.60" fill="#53ab68"/><rect x="0" y="8.30" width="24" height="7.70" fill="#fcc33c"/><rect x="0" y="15.70" width="24" height="8.60" fill="#478de0"/></g></svg>
<div class="ring" style="left:150.7px;top:621.70px;width:104.7px"><div class="pill" style="background:#650f76"></div></div>
<div class="t" style="left:197.01px;top:628.89px;font-size:10.1px;line-height:13.13px;letter-spacing:0.842px;color:#fff6ee;font-weight:bold;">17</div>
<div class="ring" style="left:284.0px;top:621.70px;width:123.8px"><div class="pill" style="background:#5a0e75"></div></div>
<div class="t" style="left:330.94px;top:628.89px;font-size:10.1px;line-height:13.13px;letter-spacing:0.509px;color:#fdf2ea;">11.7%</div>
<div class="ring" style="left:411.9px;top:621.70px;width:123.8px"><div class="pill" style="background:#320966"></div></div>
<div class="t" style="left:464.82px;top:628.89px;font-size:10.1px;line-height:13.13px;letter-spacing:0.554px;color:#fdf2ea;">873</div>
<div class="ring" style="left:539.7px;top:621.70px;width:123.7px"><div class="pill" style="background:#540d74"></div></div>
<div class="t" style="left:589.24px;top:628.89px;font-size:10.1px;line-height:13.13px;letter-spacing:0.531px;color:#fdf2ea;">2.4%</div>
<div class="ring" style="left:667.2px;top:621.70px;width:123.6px"><div class="pill" style="background:#610e76"></div></div>
<div class="t" style="left:713.65px;top:628.89px;font-size:10.1px;line-height:13.13px;letter-spacing:0.515px;color:#fdf2ea;">57.4%</div>
<div class="t" style="left:52.55px;top:656.84px;font-size:11.3px;line-height:14.69px;letter-spacing:0.503px;color:#f3f0f8;font-weight:bold;">Morocco</div>
<svg class="flag" style="top:651.35px" viewBox="0 0 24 24"><clipPath id="c17"><circle cx="12" cy="12" r="12"/></clipPath><g clip-path="url(#c17)"><rect width="24" height="24" fill="#ef5468"/><polygon points="12.00,6.50 13.70,10.46 17.99,10.85 14.76,13.70 15.70,17.90 12.00,15.70 8.30,17.90 9.24,13.70 6.01,10.85 10.30,10.46" fill="#53ab68"/><polygon points="12.00,10.80 12.59,11.99 13.90,12.18 12.95,13.11 13.18,14.42 12.00,13.80 10.82,14.42 11.05,13.11 10.10,12.18 11.41,11.99" fill="#ef5468"/></g></svg>
<div class="ring" style="left:150.7px;top:650.50px;width:104.7px"><div class="pill" style="background:#580d75"></div></div>
<div class="t" style="left:197.01px;top:657.69px;font-size:10.1px;line-height:13.13px;letter-spacing:0.842px;color:#fff6ee;font-weight:bold;">18</div>
<div class="ring" style="left:284.0px;top:650.50px;width:123.8px"><div class="pill" style="background:#28095b"></div></div>
<div class="t" style="left:333.59px;top:657.69px;font-size:10.1px;line-height:13.13px;letter-spacing:0.531px;color:#fdf2ea;">7.3%</div>
<div class="ring" style="left:411.9px;top:650.50px;width:123.8px"><div class="pill" style="background:#1f094b"></div></div>
<div class="t" style="left:464.82px;top:657.69px;font-size:10.1px;line-height:13.13px;letter-spacing:0.554px;color:#fdf2ea;">330</div>
<div class="ring" style="left:539.7px;top:650.50px;width:123.7px"><div class="pill" style="background:#540d74"></div></div>
<div class="t" style="left:589.24px;top:657.69px;font-size:10.1px;line-height:13.13px;letter-spacing:0.531px;color:#fdf2ea;">2.4%</div>
<div class="ring" style="left:667.2px;top:650.50px;width:123.6px"><div class="pill" style="background:#aa2965"></div></div>
<div class="t" style="left:713.65px;top:657.69px;font-size:10.1px;line-height:13.13px;letter-spacing:0.515px;color:#fdf2ea;">77.1%</div>
<div class="t" style="left:55.55px;top:685.64px;font-size:11.3px;line-height:14.69px;letter-spacing:0.315px;color:#f3f0f8;font-weight:bold;">Ecuador</div>
<svg class="flag" style="top:680.15px" viewBox="0 0 24 24"><clipPath id="c18"><circle cx="12" cy="12" r="12"/></clipPath><g clip-path="url(#c18)"><rect x="0" y="0.00" width="24" height="12.30" fill="#fcc33c"/><rect x="0" y="12.00" width="24" height="6.30" fill="#4355b3"/><rect x="0" y="18.00" width="24" height="6.30" fill="#ef5468"/><rect x="6.9" y="7.2" width="10.2" height="10.2" rx="2.2" fill="#6d674c"/><ellipse cx="12" cy="12.6" rx="2.7" ry="3" fill="#4f97a6"/><rect x="7.4" y="6.9" width="9.2" height="1.9" rx="0.8" fill="#57503f"/><circle cx="12" cy="11.6" r="1" fill="#d9b24a"/></g></svg>
<div class="ring" style="left:150.7px;top:679.30px;width:104.7px"><div class="pill" style="background:#4c0c72"></div></div>
<div class="t" style="left:197.01px;top:686.49px;font-size:10.1px;line-height:13.13px;letter-spacing:0.842px;color:#fff6ee;font-weight:bold;">19</div>
<div class="ring" style="left:284.0px;top:679.30px;width:123.8px"><div class="pill" style="background:#6c1275"></div></div>
<div class="t" style="left:330.55px;top:686.49px;font-size:10.1px;line-height:13.13px;letter-spacing:0.515px;color:#fdf2ea;">13.3%</div>
<div class="ring" style="left:411.9px;top:679.30px;width:123.8px"><div class="pill" style="background:#3f0a6d"></div></div>
<div class="t" style="left:460.18px;top:686.49px;font-size:10.1px;line-height:13.13px;letter-spacing:0.490px;color:#fdf2ea;">1,006</div>
<div class="ring" style="left:539.7px;top:679.30px;width:123.7px"><div class="pill" style="background:#2d0864"></div></div>
<div class="t" style="left:589.24px;top:686.49px;font-size:10.1px;line-height:13.13px;letter-spacing:0.531px;color:#fdf2ea;">1.3%</div>
<div class="ring" style="left:667.2px;top:679.30px;width:123.6px"><div class="pill" style="background:#7c1872"></div></div>
<div class="t" style="left:713.65px;top:686.49px;font-size:10.1px;line-height:13.13px;letter-spacing:0.515px;color:#fdf2ea;">62.2%</div>
<div class="t" style="left:63.95px;top:714.44px;font-size:11.3px;line-height:14.69px;letter-spacing:0.497px;color:#f3f0f8;font-weight:bold;">Turkey</div>
<svg class="flag" style="top:708.95px" viewBox="0 0 24 24"><clipPath id="c19"><circle cx="12" cy="12" r="12"/></clipPath><g clip-path="url(#c19)"><rect width="24" height="24" fill="#ef5468"/><circle cx="7.3" cy="12" r="5.8" fill="#ffffff"/><circle cx="9" cy="12" r="4.7" fill="#ef5468"/><polygon points="11.30,12.00 13.13,11.37 13.17,9.43 14.33,10.97 16.18,10.41 15.08,12.00 16.18,13.59 14.33,13.03 13.17,14.57 13.13,12.63" fill="#ffffff"/></g></svg>
<div class="ring" style="left:150.7px;top:708.10px;width:104.7px"><div class="pill" style="background:#3f0a6d"></div></div>
<div class="t" style="left:197.01px;top:715.29px;font-size:10.1px;line-height:13.13px;letter-spacing:0.842px;color:#fff6ee;font-weight:bold;">20</div>
<div class="ring" style="left:284.0px;top:708.10px;width:123.8px"><div class="pill" style="background:#4a0b72"></div></div>
<div class="t" style="left:330.55px;top:715.29px;font-size:10.1px;line-height:13.13px;letter-spacing:0.515px;color:#fdf2ea;">10.1%</div>
<div class="ring" style="left:411.9px;top:708.10px;width:123.8px"><div class="pill" style="background:#320966"></div></div>
<div class="t" style="left:464.82px;top:715.29px;font-size:10.1px;line-height:13.13px;letter-spacing:0.554px;color:#fdf2ea;">839</div>
<div class="ring" style="left:539.7px;top:708.10px;width:123.7px"><div class="pill" style="background:#6a1175"></div></div>
<div class="t" style="left:589.24px;top:715.29px;font-size:10.1px;line-height:13.13px;letter-spacing:0.531px;color:#fdf2ea;">3.0%</div>
<div class="ring" style="left:667.2px;top:708.10px;width:123.6px"><div class="pill" style="background:#410a6e"></div></div>
<div class="t" style="left:713.65px;top:715.29px;font-size:10.1px;line-height:13.13px;letter-spacing:0.515px;color:#fdf2ea;">43.7%</div>
<div class="t" style="left:13.25px;top:743.24px;font-size:11.3px;line-height:14.69px;letter-spacing:0.309px;color:#f3f0f8;font-weight:bold;">Dominican Rep.</div>
<svg class="flag" style="top:737.75px" viewBox="0 0 24 24"><clipPath id="c20"><circle cx="12" cy="12" r="12"/></clipPath><g clip-path="url(#c20)"><rect width="24" height="24" fill="#ffffff"/><rect width="9.4" height="9.4" fill="#4355b3"/><rect x="14.6" width="9.4" height="9.4" fill="#ef5468"/><rect y="14.6" width="9.4" height="9.4" fill="#ef5468"/><rect x="14.6" y="14.6" width="9.4" height="9.4" fill="#4355b3"/><rect x="10.4" y="10" width="3.2" height="4" rx="1" fill="#4a8a5a"/><rect x="11.2" y="10.8" width="1.6" height="2" fill="#3a4a90"/></g></svg>
<div class="ring" style="left:150.7px;top:736.90px;width:104.7px"><div class="pill" style="background:#33085f"></div></div>
<div class="t" style="left:197.01px;top:744.09px;font-size:10.1px;line-height:13.13px;letter-spacing:0.842px;color:#fff6ee;font-weight:bold;">21</div>
<div class="ring" style="left:284.0px;top:736.90px;width:123.8px"><div class="pill" style="background:#28085c"></div></div>
<div class="t" style="left:333.59px;top:744.09px;font-size:10.1px;line-height:13.13px;letter-spacing:0.531px;color:#fdf2ea;">7.9%</div>
<div class="ring" style="left:411.9px;top:736.90px;width:123.8px"><div class="pill" style="background:#240955"></div></div>
<div class="t" style="left:464.82px;top:744.09px;font-size:10.1px;line-height:13.13px;letter-spacing:0.554px;color:#fdf2ea;">450</div>
<div class="ring" style="left:539.7px;top:736.90px;width:123.7px"><div class="pill" style="background:#6a1175"></div></div>
<div class="t" style="left:589.24px;top:744.09px;font-size:10.1px;line-height:13.13px;letter-spacing:0.531px;color:#fdf2ea;">2.9%</div>
<div class="ring" style="left:667.2px;top:736.90px;width:123.6px"><div class="pill" style="background:#6a1175"></div></div>
<div class="t" style="left:713.65px;top:744.09px;font-size:10.1px;line-height:13.13px;letter-spacing:0.515px;color:#fdf2ea;">59.4%</div>
<div class="t" style="left:54.85px;top:772.04px;font-size:11.3px;line-height:14.69px;letter-spacing:0.462px;color:#f3f0f8;font-weight:bold;">Ethiopia</div>
<svg class="flag" style="top:766.55px" viewBox="0 0 24 24"><clipPath id="c21"><circle cx="12" cy="12" r="12"/></clipPath><g clip-path="url(#c21)"><rect x="0" y="0.00" width="24" height="8.60" fill="#53ab68"/><rect x="0" y="8.30" width="24" height="7.70" fill="#fcc33c"/><rect x="0" y="15.70" width="24" height="8.60" fill="#ef5468"/><circle cx="12" cy="12" r="5.8" fill="#4355b3"/><polygon points="12.00,8.30 12.92,10.94 15.71,10.99 13.48,12.68 14.29,15.36 12.00,13.76 9.71,15.36 10.52,12.68 8.29,10.99 11.08,10.94" fill="#f2c444"/><polygon points="12.00,10.60 12.38,11.68 13.52,11.71 12.61,12.40 12.94,13.49 12.00,12.84 11.06,13.49 11.39,12.40 10.48,11.71 11.62,11.68" fill="#4355b3"/></g></svg>
<div class="ring" style="left:150.7px;top:765.70px;width:104.7px"><div class="pill" style="background:#290651"></div></div>
<div class="t" style="left:197.01px;top:772.89px;font-size:10.1px;line-height:13.13px;letter-spacing:0.842px;color:#fff6ee;font-weight:bold;">22</div>
<div class="ring" style="left:284.0px;top:765.70px;width:123.8px"><div class="pill" style="background:#f37e18"></div></div>
<div class="t" style="left:330.55px;top:772.89px;font-size:10.1px;line-height:13.13px;letter-spacing:0.515px;color:#fdf2ea;">33.9%</div>
<div class="ring" style="left:411.9px;top:765.70px;width:123.8px"><div class="pill" style="background:#b82f5e"></div></div>
<div class="t" style="left:460.18px;top:772.89px;font-size:10.1px;line-height:13.13px;letter-spacing:0.490px;color:#fdf2ea;">3,035</div>
<div class="ring" style="left:539.7px;top:765.70px;width:123.7px"><div class="pill" style="background:#2b0861"></div></div>
<div class="t" style="left:589.24px;top:772.89px;font-size:10.1px;line-height:13.13px;letter-spacing:0.531px;color:#fdf2ea;">1.1%</div>
<div class="ring" style="left:667.2px;top:765.70px;width:123.6px"><div class="pill" style="background:#500c74"></div></div>
<div class="t" style="left:713.65px;top:772.89px;font-size:10.1px;line-height:13.13px;letter-spacing:0.515px;color:#fdf2ea;">48.3%</div>
<div class="t" style="left:47.75px;top:800.84px;font-size:11.3px;line-height:14.69px;letter-spacing:0.489px;color:#f3f0f8;font-weight:bold;">Colombia</div>
<svg class="flag" style="top:795.35px" viewBox="0 0 24 24"><clipPath id="c22"><circle cx="12" cy="12" r="12"/></clipPath><g clip-path="url(#c22)"><rect x="0" y="0.00" width="24" height="12.30" fill="#fcc33c"/><rect x="0" y="12.00" width="24" height="6.30" fill="#4355b3"/><rect x="0" y="18.00" width="24" height="6.30" fill="#ef5468"/></g></svg>
<div class="ring" style="left:150.7px;top:794.50px;width:104.7px"><div class="pill" style="background:#1f0545"></div></div>
<div class="t" style="left:197.01px;top:801.69px;font-size:10.1px;line-height:13.13px;letter-spacing:0.842px;color:#fff6ee;font-weight:bold;">23</div>
<div class="ring" style="left:284.0px;top:794.50px;width:123.8px"><div class="pill" style="background:#28095b"></div></div>
<div class="t" style="left:333.59px;top:801.69px;font-size:10.1px;line-height:13.13px;letter-spacing:0.531px;color:#fdf2ea;">7.3%</div>
<div class="ring" style="left:411.9px;top:794.50px;width:123.8px"><div class="pill" style="background:#1d0947"></div></div>
<div class="t" style="left:464.82px;top:801.69px;font-size:10.1px;line-height:13.13px;letter-spacing:0.554px;color:#fdf2ea;">297</div>
<div class="ring" style="left:539.7px;top:794.50px;width:123.7px"><div class="pill" style="background:#6a1175"></div></div>
<div class="t" style="left:589.24px;top:801.69px;font-size:10.1px;line-height:13.13px;letter-spacing:0.531px;color:#fdf2ea;">2.9%</div>
<div class="ring" style="left:667.2px;top:794.50px;width:123.6px"><div class="pill" style="background:#731474"></div></div>
<div class="t" style="left:713.65px;top:801.69px;font-size:10.1px;line-height:13.13px;letter-spacing:0.515px;color:#fdf2ea;">60.6%</div>
<div class="t" style="left:60.75px;top:829.64px;font-size:11.3px;line-height:14.69px;letter-spacing:0.599px;color:#f3f0f8;font-weight:bold;">Nigeria</div>
<svg class="flag" style="top:824.15px" viewBox="0 0 24 24"><clipPath id="c23"><circle cx="12" cy="12" r="12"/></clipPath><g clip-path="url(#c23)"><rect x="0.00" y="0" width="5.60" height="24" fill="#53ab68"/><rect x="5.30" y="0" width="13.70" height="24" fill="#ffffff"/><rect x="18.70" y="0" width="5.60" height="24" fill="#53ab68"/></g></svg>
<div class="ring" style="left:150.7px;top:823.30px;width:104.7px"><div class="pill" style="background:#130337"></div></div>
<div class="t" style="left:197.01px;top:830.49px;font-size:10.1px;line-height:13.13px;letter-spacing:0.842px;color:#fff6ee;font-weight:bold;">24</div>
<div class="ring" style="left:284.0px;top:823.30px;width:123.8px"><div class="pill" style="background:#6c1275"></div></div>
<div class="t" style="left:330.55px;top:830.49px;font-size:10.1px;line-height:13.13px;letter-spacing:0.515px;color:#fdf2ea;">12.8%</div>
<div class="ring" style="left:411.9px;top:823.30px;width:123.8px"><div class="pill" style="background:#3a0a6a"></div></div>
<div class="t" style="left:464.82px;top:830.49px;font-size:10.1px;line-height:13.13px;letter-spacing:0.554px;color:#fdf2ea;">990</div>
<div class="ring" style="left:539.7px;top:823.30px;width:123.7px"><div class="pill" style="background:#500c74"></div></div>
<div class="t" style="left:589.24px;top:830.49px;font-size:10.1px;line-height:13.13px;letter-spacing:0.531px;color:#fdf2ea;">2.3%</div>
<div class="ring" style="left:667.2px;top:823.30px;width:123.6px"><div class="pill" style="background:#2b0861"></div></div>
<div class="t" style="left:713.65px;top:830.49px;font-size:10.1px;line-height:13.13px;letter-spacing:0.515px;color:#fdf2ea;">37.4%</div>
<div class="t" style="left:62.05px;top:858.44px;font-size:11.3px;line-height:14.69px;letter-spacing:0.459px;color:#f3f0f8;font-weight:bold;">Mexico</div>
<svg class="flag" style="top:852.95px" viewBox="0 0 24 24"><clipPath id="c24"><circle cx="12" cy="12" r="12"/></clipPath><g clip-path="url(#c24)"><rect x="0.00" y="0" width="5.80" height="24" fill="#53ab68"/><rect x="5.50" y="0" width="13.30" height="24" fill="#ffffff"/><rect x="18.50" y="0" width="5.80" height="24" fill="#ef5468"/><ellipse cx="12" cy="12.2" rx="4" ry="3.8" fill="#8f7440"/><ellipse cx="11.2" cy="13.4" rx="2.6" ry="1.7" fill="#5a9a5a"/><circle cx="12.8" cy="10.8" r="1.6" fill="#6a4a2a"/></g></svg>
<div class="ring" style="left:150.7px;top:852.10px;width:104.7px"><div class="pill" style="background:#0c022c"></div></div>
<div class="t" style="left:197.01px;top:859.29px;font-size:10.1px;line-height:13.13px;letter-spacing:0.842px;color:#fff6ee;font-weight:bold;">25</div>
<div class="ring" style="left:284.0px;top:852.10px;width:123.8px"><div class="pill" style="background:#20094e"></div></div>
<div class="t" style="left:333.59px;top:859.29px;font-size:10.1px;line-height:13.13px;letter-spacing:0.531px;color:#fdf2ea;">5.5%</div>
<div class="ring" style="left:411.9px;top:852.10px;width:123.8px"><div class="pill" style="background:#1d0947"></div></div>
<div class="t" style="left:464.82px;top:859.29px;font-size:10.1px;line-height:13.13px;letter-spacing:0.554px;color:#fdf2ea;">178</div>
<div class="ring" style="left:539.7px;top:852.10px;width:123.7px"><div class="pill" style="background:#a12569"></div></div>
<div class="t" style="left:589.24px;top:859.29px;font-size:10.1px;line-height:13.13px;letter-spacing:0.531px;color:#fdf2ea;">4.5%</div>
<div class="ring" style="left:667.2px;top:852.10px;width:123.6px"><div class="pill" style="background:#630f76"></div></div>
<div class="t" style="left:713.65px;top:859.29px;font-size:10.1px;line-height:13.13px;letter-spacing:0.515px;color:#fdf2ea;">58.4%</div>
<svg class="abs" style="left:255px;top:180px" width="30" height="680" viewBox="255 180 30 680"><g font-family="Liberation Sans" font-size="8.3" fill="#8c84a8"><text transform="translate(272.4,340.6) rotate(-90)" textLength="118.8" lengthAdjust="spacing">HIGHER RISK OF DEFAULT</text><text transform="translate(272.4,817) rotate(-90)" textLength="115.8" lengthAdjust="spacing">LOWER RISK OF DEFAULT</text></g><g fill="none" stroke="#8c84a8" stroke-width="0.9"><path d="M268.9 212.8V192.4M266.2 195.4l2.7-3 2.700 3"/><path d="M269 825.6V846.2M266.3 843.2l2.700 3 2.700-3"/></g></svg>
<svg class="abs" style="left:5px;top:895px" width="50" height="40" viewBox="0 0 50 40"><g fill="#fff"><circle cx="14.55" cy="23" r="9.05"/><circle cx="29.65" cy="23" r="9.05"/><path d="M15.400 8.100Q19 7.400 21.900 10.100Q24.900 7.400 28.700 8.100Q30.200 8.400 31.200 9.600L38.200 18.500L6 18.500L12.900 9.600Q13.900 8.400 15.400 8.100Z"/></g><g fill="#070022"><circle cx="14.55" cy="23" r="7.85"/><circle cx="29.65" cy="23" r="7.85"/></g><g fill="none" stroke="#fff" stroke-width="1.2"><circle cx="14.55" cy="23" r="8.45"/><circle cx="29.65" cy="23" r="8.45"/></g><path d="M13.500 27.800Q13.200 24 16.700 21.300Q19.300 19.300 21.900 19.100Q24.500 18.900 25.900 19.700L26.800 18.600L27.400 20.500Q27.900 22 29 22.600L30.600 23.400Q31 24.600 32.500 25.200Q33.200 26.600 32.200 28.200Q31.200 29.500 29.400 29.900L28.800 31.300Q25 32.200 22.100 29.300Q19 32.300 15.100 31.200Q13.700 29.800 13.500 27.800Z" fill="#fff"/><path d="M10.400 24.600L12.300 25.600L12.800 27.400L11.500 26.900Z" fill="#fff"/></svg>
<div class="t" style="left:51.46px;top:912.43px;font-size:8.4px;line-height:10.92px;letter-spacing:0.328px;color:#e2deec;font-weight:bold;">visualcapitalist.com</div>
<div class="t" style="left:158.86px;top:912.43px;font-size:8.4px;line-height:10.92px;letter-spacing:0.289px;color:#e2deec;font-weight:bold;">Source: Bloomberg</div>
<svg class="abs" style="left:335.5px;top:887.1px" width="20" height="20" viewBox="0 0 20 20"><circle cx="10" cy="10" r="7.7" fill="none" stroke="#5b3d7c" stroke-width="0.8"/><text x="9.8" y="13.3" text-anchor="middle" font-family="Liberation Serif" font-style="italic" font-weight="bold" font-size="10.2" fill="#aaa2c4">i</text></svg>
<svg class="abs" style="left:465.3px;top:887.1px" width="20" height="20" viewBox="0 0 20 20"><circle cx="10" cy="10" r="7.7" fill="none" stroke="#5b3d7c" stroke-width="0.8"/><text x="9.8" y="13.3" text-anchor="middle" font-family="Liberation Serif" font-style="italic" font-weight="bold" font-size="10.2" fill="#aaa2c4">i</text></svg>
<svg class="abs" style="left:590.1px;top:887.1px" width="20" height="20" viewBox="0 0 20 20"><circle cx="10" cy="10" r="7.7" fill="none" stroke="#5b3d7c" stroke-width="0.8"/><text x="9.8" y="13.3" text-anchor="middle" font-family="Liberation Serif" font-style="italic" font-weight="bold" font-size="10.2" fill="#aaa2c4">i</text></svg>
<svg class="abs" style="left:719.9px;top:887.1px" width="20" height="20" viewBox="0 0 20 20"><circle cx="10" cy="10" r="7.7" fill="none" stroke="#5b3d7c" stroke-width="0.8"/><text x="9.8" y="13.3" text-anchor="middle" font-family="Liberation Serif" font-style="italic" font-weight="bold" font-size="10.2" fill="#aaa2c4">i</text></svg>
<div class="t" style="left:304.26px;top:911.63px;font-size:7.3px;line-height:9.49px;letter-spacing:0.296px;color:#887f9f;font-weight:bold;">The weighted average</div>
<div class="t" style="left:309.46px;top:921.71px;font-size:7.3px;line-height:9.49px;letter-spacing:0.325px;color:#887f9f;font-weight:bold;">yield to maturity of</div>
<div class="t" style="left:320.36px;top:931.79px;font-size:7.3px;line-height:9.49px;letter-spacing:0.345px;color:#887f9f;font-weight:bold;">the country's</div>
<div class="t" style="left:308.81px;top:941.87px;font-size:7.3px;line-height:9.49px;letter-spacing:0.316px;color:#887f9f;font-weight:bold;">government bonds.</div>
<div class="t" style="left:423.61px;top:911.63px;font-size:7.3px;line-height:9.49px;letter-spacing:0.259px;color:#887f9f;font-weight:bold;">A credit default swap (CDS)</div>
<div class="t" style="left:416.76px;top:921.71px;font-size:7.3px;line-height:9.49px;letter-spacing:0.178px;color:#887f9f;font-weight:bold;">acts as an insurance policy that</div>
<div class="t" style="left:426.91px;top:931.79px;font-size:7.3px;line-height:9.49px;letter-spacing:0.335px;color:#887f9f;font-weight:bold;">protects the lender in the</div>
<div class="t" style="left:418.46px;top:941.87px;font-size:7.3px;line-height:9.49px;letter-spacing:0.297px;color:#887f9f;font-weight:bold;">event of default. The "spread"</div>
<div class="t" style="left:416.96px;top:951.95px;font-size:7.3px;line-height:9.49px;letter-spacing:0.225px;color:#887f9f;font-weight:bold;">is the cost of a CDS, expressed</div>
<div class="t" style="left:426.51px;top:962.03px;font-size:7.3px;line-height:9.49px;letter-spacing:0.223px;color:#887f9f;font-weight:bold;">as a % of the debt's value.</div>
<div class="t" style="left:560.71px;top:911.63px;font-size:7.3px;line-height:9.49px;letter-spacing:0.233px;color:#887f9f;font-weight:bold;">Shows how much the</div>
<div class="t" style="left:565.31px;top:921.71px;font-size:7.3px;line-height:9.49px;letter-spacing:0.255px;color:#887f9f;font-weight:bold;">country spends on</div>
<div class="t" style="left:560.56px;top:931.79px;font-size:7.3px;line-height:9.49px;letter-spacing:0.394px;color:#887f9f;font-weight:bold;">interest payments to</div>
<div class="t" style="left:561.96px;top:941.87px;font-size:7.3px;line-height:9.49px;letter-spacing:0.222px;color:#887f9f;font-weight:bold;">service its debt, as a</div>
<div class="t" style="left:581.36px;top:951.95px;font-size:7.3px;line-height:9.49px;letter-spacing:0.368px;color:#887f9f;font-weight:bold;">% of GDP.</div>
<div class="t" style="left:697.56px;top:911.63px;font-size:7.3px;line-height:9.49px;letter-spacing:0.218px;color:#887f9f;font-weight:bold;">Shows how much</div>
<div class="t" style="left:697.41px;top:921.71px;font-size:7.3px;line-height:9.49px;letter-spacing:0.372px;color:#887f9f;font-weight:bold;">outstanding debt</div>
<div class="t" style="left:705.26px;top:931.79px;font-size:7.3px;line-height:9.49px;letter-spacing:0.295px;color:#887f9f;font-weight:bold;">the country's</div>
<div class="t" style="left:698.21px;top:941.87px;font-size:7.3px;line-height:9.49px;letter-spacing:0.341px;color:#887f9f;font-weight:bold;">government has,</div>
<div class="t" style="left:703.06px;top:951.95px;font-size:7.3px;line-height:9.49px;letter-spacing:0.223px;color:#887f9f;font-weight:bold;">as a % of GDP.</div>
</div></body></html>
